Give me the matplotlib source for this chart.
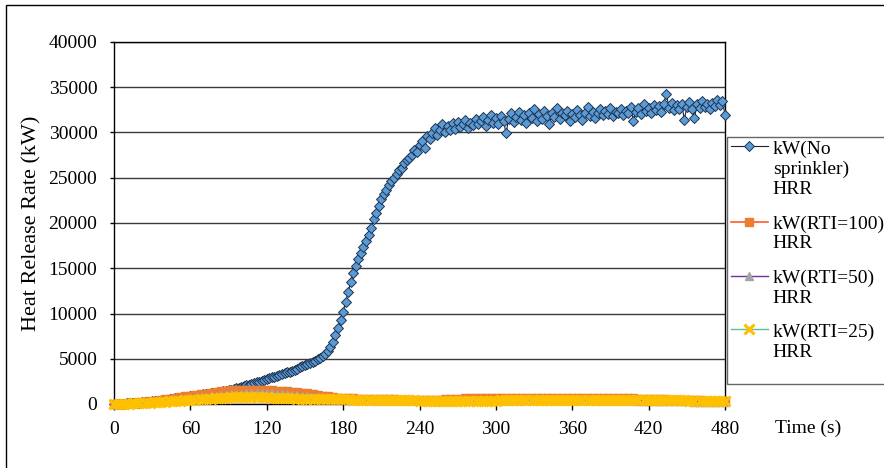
import numpy as np
import matplotlib.pyplot as plt
from matplotlib.patches import Rectangle
from matplotlib.legend_handler import HandlerLine2D

plt.rcParams['font.family'] = ['Liberation Serif', 'DejaVu Serif']

# tiempo (s)
t_fine = np.arange(0, 481, 2)
t_low = np.arange(0, 481, 4)

# HRR sin rociadores (kW), cada 2 s
hrr_no_sprinkler = [
    0, 10, 20, 35, 50, 65, 80, 95, 115, 135,
    155, 180, 205, 230, 260, 290, 320, 350, 385, 420,
    455, 490, 530, 570, 610, 650, 690, 730, 770, 810,
    850, 890, 930, 970, 1010, 1050, 1090, 1130, 1170, 1210,
    1250, 1290, 1340, 1390, 1440, 1500, 1580, 1650, 1720, 1800,
    1880, 1950, 2050, 2110, 2210, 2270, 2380, 2440, 2550, 2630,
    2750, 2820, 2940, 3000, 3120, 3190, 3310, 3390, 3510, 3590,
    3700, 3810, 3910, 4050, 4150, 4290, 4390, 4530, 4640, 4790,
    4920, 5080, 5280, 5550, 5900, 6350, 6900, 7600, 8400, 9300,
    10200, 11300, 12400, 13500, 14500, 15300, 16000, 16700, 17400, 18000,
    18700, 19500, 20400, 21100, 21900, 22600, 23200, 23700, 24200, 24600,
    25000, 25400, 25900, 26100, 26600, 27000, 27200, 27500, 28100, 27800,
    28600, 29100, 28300, 29600, 29300, 29900, 30500, 29700, 30300, 30900,
    30100, 30700, 30300, 31000, 30400, 31200, 30600, 30900, 31400, 30500,
    31100, 30800, 31500, 30900, 31300, 31700, 30700, 31400, 31900, 31100,
    31600, 30900, 31800, 31300, 29900, 31500, 32100, 31200, 31700, 32300,
    31400, 31900, 31100, 32200, 31600, 32600, 31300, 32000, 31500, 32400,
    31800, 30900, 32200, 31700, 32700, 31500, 32100, 31900, 32400, 31300,
    32000, 31700, 32500, 31900, 31400, 32200, 32800, 31800, 32300, 31600,
    32100, 32600, 31900, 32400, 32000, 32700, 31800, 32300, 32100, 32600,
    31900, 32400, 32200, 32800, 31300, 32300, 32700, 32000, 33100, 32400,
    32700, 32200, 33000, 32500, 32900, 32300, 33200, 34300, 32700, 33300,
    32500, 33000, 32600, 33200, 31400, 32800, 33400, 32600, 31600, 33100,
    32700, 33500, 32800, 33200, 32600, 33300, 32900, 33600, 33000, 33500,
    31900,
]

# HRR con rociadores (kW), cada 4 s
hrr_rti100 = [
    0, 20, 50, 90, 130, 180, 240, 300, 370, 440,
    510, 590, 670, 750, 830, 910, 990, 1070, 1150, 1230,
    1310, 1390, 1460, 1510, 1540, 1560, 1570, 1570, 1560, 1550,
    1530, 1500, 1470, 1430, 1390, 1340, 1290, 1230, 1170, 1100,
    1020, 930, 840, 760, 700, 660, 630, 610, 590, 570,
    550, 540, 530, 520, 510, 500, 490, 480, 470, 460,
    460, 460, 460, 470, 480, 500, 520, 550, 580, 610,
    640, 660, 680, 690, 700, 700, 710, 710, 710, 710,
    710, 710, 700, 700, 700, 690, 690, 690, 680, 680,
    680, 670, 670, 670, 660, 660, 650, 650, 640, 640,
    630, 620, 610, 600, 590, 570, 550, 530, 510, 490,
    470, 450, 430, 410, 400, 390, 380, 370, 360, 355,
    350,
]
hrr_rti50 = [
    0, 15, 35, 60, 90, 125, 160, 200, 245, 290,
    340, 390, 445, 500, 560, 620, 680, 740, 800, 860,
    920, 980, 1030, 1080, 1120, 1160, 1190, 1210, 1220, 1220,
    1210, 1190, 1160, 1120, 1080, 1030, 980, 920, 860, 800,
    740, 690, 640, 600, 570, 550, 530, 520, 510, 500,
    490, 480, 470, 460, 450, 440, 430, 420, 410, 400,
    390, 380, 370, 360, 360, 360, 370, 380, 390, 400,
    410, 420, 430, 440, 450, 460, 470, 480, 490, 500,
    500, 510, 510, 510, 510, 510, 500, 500, 500, 490,
    490, 480, 480, 470, 470, 460, 450, 440, 430, 420,
    410, 400, 390, 380, 370, 360, 350, 340, 330, 320,
    310, 300, 290, 280, 270, 260, 250, 240, 230, 220,
    210,
]
hrr_rti25 = [
    0, 10, 25, 45, 70, 95, 120, 150, 180, 210,
    245, 280, 315, 350, 390, 430, 470, 510, 550, 590,
    630, 660, 690, 720, 740, 750, 760, 760, 750, 740,
    720, 700, 680, 660, 640, 620, 600, 590, 580, 570,
    560, 550, 540, 530, 520, 510, 500, 495, 490, 485,
    480, 470, 460, 450, 440, 430, 420, 410, 400, 390,
    380, 370, 360, 350, 345, 340, 340, 345, 350, 355,
    360, 365, 370, 375, 380, 385, 390, 395, 400, 400,
    405, 410, 410, 410, 410, 410, 410, 405, 405, 400,
    400, 400, 400, 400, 405, 410, 420, 430, 440, 450,
    460, 470, 470, 470, 465, 460, 450, 440, 430, 420,
    410, 400, 390, 380, 370, 360, 350, 340, 330, 320,
    310,
]

# la ultima etiqueta lleva una linea vacia para alargar el recuadro
labels = ["kW(No\nsprinkler)\nHRR", "kW(RTI=100)\nHRR",
          "kW(RTI=50)\nHRR", "kW(RTI=25)\nHRR\n"]
x_ticks = [0, 60, 120, 180, 240, 300, 360, 420, 480]
y_ticks = np.arange(0, 40001, 5000)


# muestra de la leyenda alineada con la primera linea del texto
class FirstLineHandler(HandlerLine2D):
    def __init__(self, nlines, **kw):
        super().__init__(**kw)
        self.nlines = nlines

    def create_artists(self, legend, orig_handle, xdescent, ydescent,
                       width, height, fontsize, trans):
        shift = 0.6 * fontsize * (self.nlines - 1)
        return super().create_artists(legend, orig_handle, xdescent,
                                      ydescent - 2 * shift, width, height,
                                      fontsize, trans)


fig = plt.figure(figsize=(8.84, 4.68), dpi=100)
ax = fig.add_axes([114 / 884, 64 / 468, 611 / 884, 362 / 468])

l0, = ax.plot(t_fine, hrr_no_sprinkler, color='#1c2233', lw=0.8, marker='D',
              ms=5.5, mfc='#5b9bd5', mec='#1f3350', mew=0.7, label=labels[0],
              clip_on=False, zorder=3)
l1, = ax.plot(t_low, hrr_rti100, color='#ff5a2a', lw=1.2, marker='s', ms=5.5,
              mfc='#ed7d31', mec='#ed7d31', label=labels[1], clip_on=False,
              zorder=4)
l2, = ax.plot(t_low, hrr_rti50, color='#7030a0', lw=1.0, marker='^', ms=6,
              mfc='#a5a5a5', mec='#a5a5a5', label=labels[2], clip_on=False,
              zorder=5)
l3, = ax.plot(t_low, hrr_rti25, color='#5cbf96', lw=1.0, marker='x', ms=7,
              mec='#ffc000', mew=2.2, label=labels[3], clip_on=False, zorder=6)

ax.set_xlim(0, 480)
ax.set_ylim(0, 40000)
ax.set_xticks(x_ticks)
ax.set_yticks(y_ticks)
ax.tick_params(labelsize=14, length=4, width=1, color='black')
ax.tick_params(axis='x', pad=8)
ax.tick_params(axis='y', pad=9, length=3)
ax.grid(axis='y', color='#3a3a3a', lw=1)
ax.set_axisbelow(True)
for s in ax.spines.values():
    s.set_color('black')
    s.set_linewidth(1)

ax.set_ylabel("Heat Release Rate (kW)", fontsize=16, labelpad=5)
fig.text(808 / 884, 1 - 428 / 468, "Time (s)", fontsize=14,
         ha='center', va='center')

handlers = {l0: FirstLineHandler(3), l1: FirstLineHandler(2),
            l2: FirstLineHandler(2), l3: FirstLineHandler(3)}
fig.legend(handles=[l0, l1, l2, l3], handler_map=handlers,
           loc='upper left', bbox_to_anchor=(727 / 884, 1 - 137 / 468),
           borderaxespad=0, fontsize=14, frameon=True, fancybox=False,
           edgecolor='#404040', handlelength=1.9, handletextpad=0.25,
           labelspacing=0.9, borderpad=0.2)

fig.patches.append(Rectangle((6 / 884, -0.1), 2, 1.1 - 5 / 468,
                             transform=fig.transFigure, fill=False,
                             edgecolor='black', lw=1))

fig.savefig("out.png", dpi=100)
